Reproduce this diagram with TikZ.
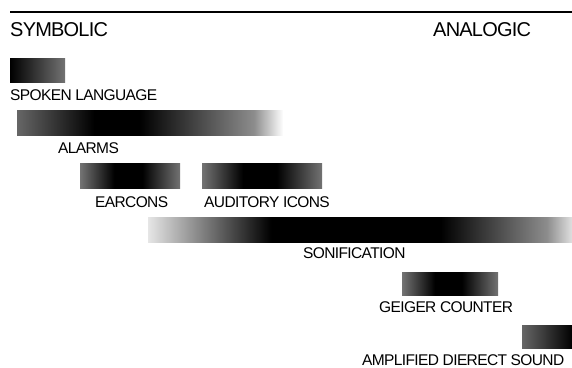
\documentclass[tikz,border=0pt]{standalone}
\usepackage{tikz}
\usepackage{xcolor}
\usepackage{fontspec}
\setmainfont{Liberation Sans}
\newfontfamily\tightfont[LetterSpace=-4]{Liberation Sans}

% horizontal shadings, the bar spans 25bp..75bp
\pgfdeclarehorizontalshading{spokenshade}{100bp}{color(0bp)=(black); color(25bp)=(black); color(75bp)=(black!55); color(100bp)=(black!55)}
\pgfdeclarehorizontalshading{alarmshade}{100bp}{color(0bp)=(black!60); color(25bp)=(black!60); color(39.5bp)=(black); color(48bp)=(black); color(69.5bp)=(black!45); color(75bp)=(white); color(100bp)=(white)}
\pgfdeclarehorizontalshading{peakshade}{100bp}{color(0bp)=(black!55); color(25bp)=(black!55); color(42bp)=(black); color(56bp)=(black); color(75bp)=(black!55); color(100bp)=(black!55)}
\pgfdeclarehorizontalshading{sonishade}{100bp}{color(0bp)=(black!10); color(25bp)=(black!10); color(39.5bp)=(black); color(59.5bp)=(black); color(72bp)=(black!45); color(75bp)=(black!12); color(100bp)=(black!12)}
\pgfdeclarehorizontalshading{directshade}{100bp}{color(0bp)=(black!60); color(25bp)=(black!60); color(75bp)=(black); color(100bp)=(black)}

\tikzset{
	bar/.style={shade, draw=none, inner sep=0pt, anchor=north west},
	tag/.style={inner sep=0pt, anchor=base west, font=\tightfont\fontsize{15.5}{18}\selectfont},
	pole/.style={inner sep=0pt, anchor=base west, font=\tightfont\fontsize{20}{24}\selectfont}
}

\begin{document}
\begin{tikzpicture}[x=1pt,y=-1pt]
		\useasboundingbox (0,0) rectangle (572,367);
		\coordinate (lstart) at (10,12);
		\coordinate (lend) at (572,12);
		\draw[line width=1.8pt] (lstart) -- (lend);
		\node[pole] (symb) at (10,36.5) {SYMBOLIC};
		\node[pole] (analog) at (433,36) {ANALOGIC};
		% bars
		\node[bar, shading=spokenshade, minimum width=55pt, minimum height=24pt] (spoken) at (10,58) {};
		\node[bar, shading=alarmshade, minimum width=266pt, minimum height=25pt] (alarms) at (17,110) {};
		\node[bar, shading=peakshade, minimum width=100pt, minimum height=25pt] (earcons) at (80,163) {};
		\node[bar, shading=peakshade, minimum width=120pt, minimum height=25pt] (icons) at (202,163) {};
		\node[bar, shading=sonishade, minimum width=424pt, minimum height=25pt] (soni) at (148,217) {};
		\node[bar, shading=peakshade, minimum width=96pt, minimum height=23pt] (geiger) at (402,272) {};
		\node[bar, shading=directshade, minimum width=50pt, minimum height=23pt] (direct) at (522,325) {};
		% labels
		\node[tag] (spokenlbl) at (10,100) {SPOKEN LANGUAGE};
		\node[tag] (alarmslbl) at (58,153) {ALARMS};
		\node[tag] (earconslbl) at (95,207) {EARCONS};
		\node[tag] (iconslbl) at (204,207) {AUDITORY ICONS};
		\node[tag] (sonilbl) at (303,258) {SONIFICATION};
		\node[tag] (geigerlbl) at (379,312) {GEIGER COUNTER};
		\node[tag] (directlbl) at (362,365) {AMPLIFIED DIERECT SOUND};
	\end{tikzpicture}
\end{document}
